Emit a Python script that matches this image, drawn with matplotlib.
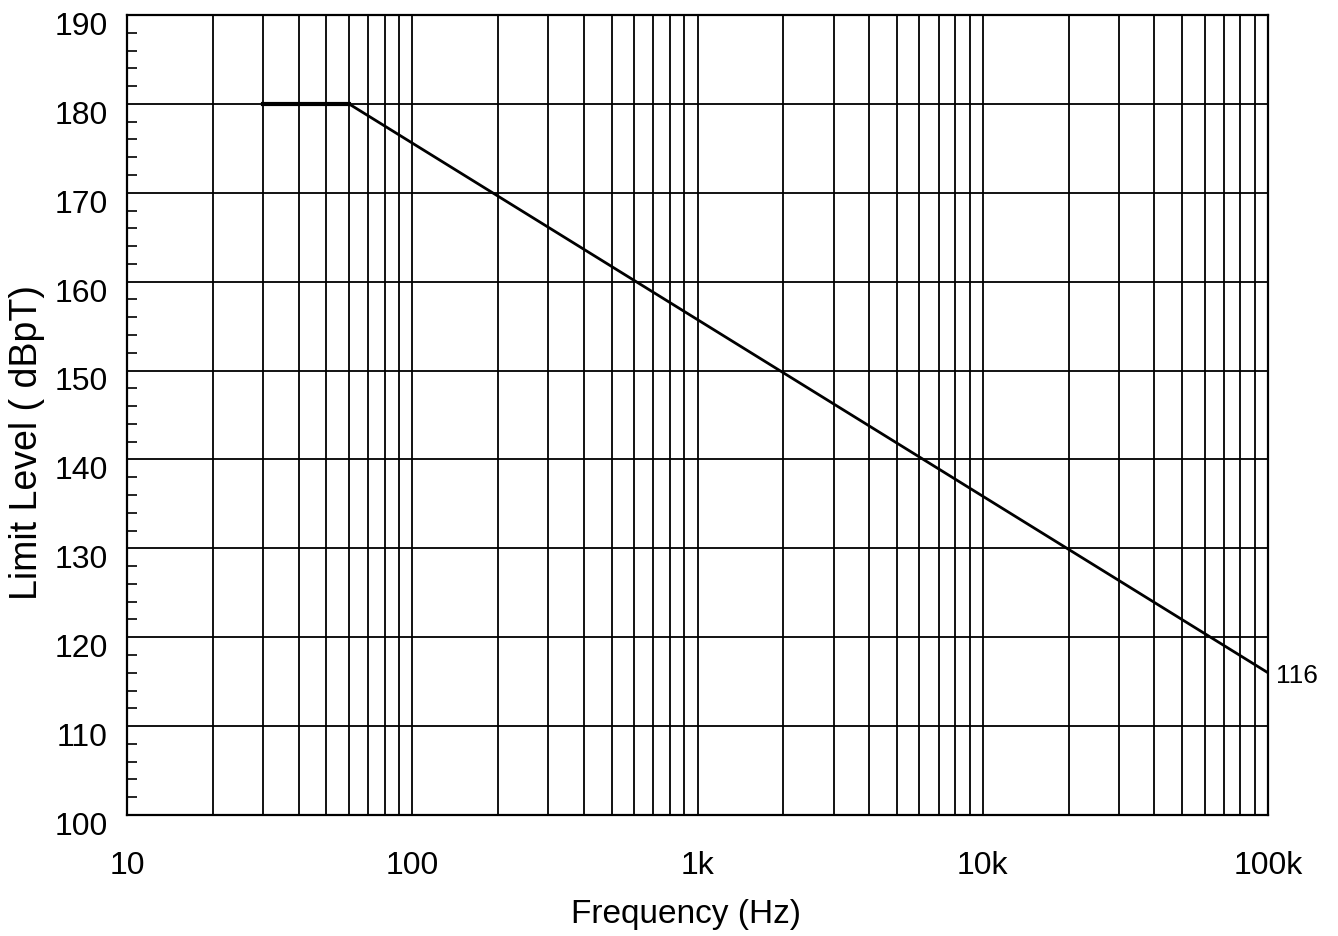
import matplotlib
matplotlib.use("Agg")
import matplotlib.pyplot as plt
from matplotlib.ticker import FixedLocator, NullFormatter
from matplotlib.transforms import ScaledTranslation

# limit curve: flat 180 dBpT up to the corner, then falling to 116 at 100 kHz
freq = [30, 60, 100000]
level = [180, 180, 116]

xticks = [10, 100, 1000, 10000, 100000]
xlabels = ["10", "100", "1k", "10k", "100k"]
yticks = [100, 110, 120, 130, 140, 150, 160, 170, 180, 190]
yminor = [v + d for v in yticks[:-1] for d in (2, 4, 6, 8)]
xminor = [m * 10 ** e for e in range(1, 5) for m in range(2, 10)]

plt.rcParams["font.family"] = ["Liberation Sans", "DejaVu Sans"]

fig = plt.figure(figsize=(13.38, 9.36), dpi=100)
ax = fig.add_axes([127 / 1338, 1 - 815 / 936, (1268 - 127) / 1338, (815 - 15) / 936])

ax.set_xscale("log")
ax.set_xlim(10, 100000)
ax.set_ylim(100, 190)

ax.set_xticks(xticks)
ax.set_xticklabels(xlabels)
ax.xaxis.set_minor_locator(FixedLocator(xminor))
ax.xaxis.set_minor_formatter(NullFormatter())
ax.set_yticks(yticks)
ax.yaxis.set_minor_locator(FixedLocator(yminor))

ax.grid(True, which="major", color="black", lw=1.3)
ax.grid(True, which="minor", axis="x", color="black", lw=1.3)

ax.tick_params(axis="both", which="major", length=0, labelsize=23)
ax.tick_params(axis="x", which="major", pad=26)
ax.tick_params(axis="y", which="major", pad=14)
ax.tick_params(axis="y", which="minor", direction="in", length=7, width=1.2, left=True)
ax.tick_params(axis="x", which="minor", length=0)

for s in ax.spines.values():
    s.set_linewidth(1.6)
    s.set_color("black")

ax.plot(freq, level, color="black", lw=2, solid_joinstyle="miter", zorder=5)
ax.plot(freq[:2], level[:2], color="black", lw=3, zorder=5)
ax.annotate("116", xy=(freq[-1], level[-1]), xytext=(6, -2), textcoords="offset points",
            ha="left", va="center", fontsize=19)

ax.set_xlabel("Frequency (Hz)", fontsize=24)
ax.set_ylabel("Limit Level ( dBpT)", fontsize=27)
ax.xaxis.set_label_coords(0.49, -0.105)
ax.yaxis.set_label_coords(-0.072, 0.465)

off = ScaledTranslation(0, -6 / 72, fig.dpi_scale_trans)
for lab in ax.get_yticklabels():
    lab.set_transform(lab.get_transform() + off)

fig.savefig("out.png", dpi=100)
